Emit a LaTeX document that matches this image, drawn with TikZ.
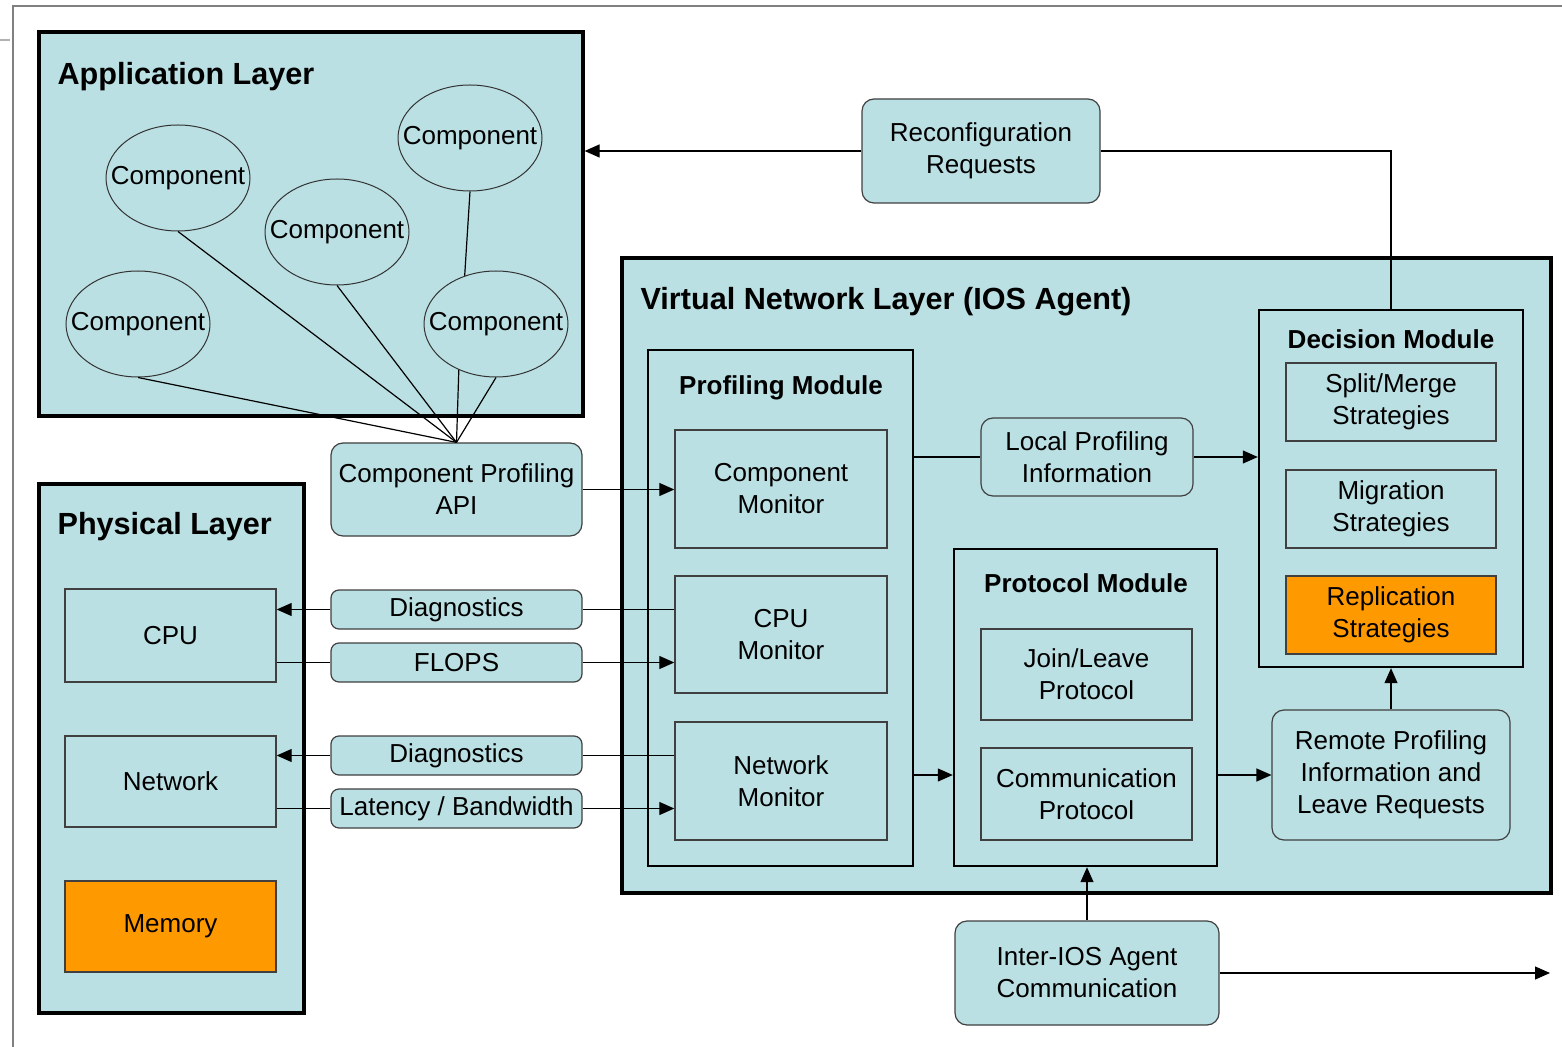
\documentclass[tikz,border=0pt]{standalone}
\usepackage{fontspec}
\setmainfont{Liberation Sans}
\usetikzlibrary{arrows.meta,shapes.geometric}
\definecolor{lblue}{RGB}{187,224,227}
\definecolor{orng}{RGB}{255,153,0}
\begin{document}
\begin{tikzpicture}[x=0.5pt, y=-0.5pt, line width=0.6pt,
    every node/.style={font=\fontsize{13}{16}\selectfont, align=center, inner sep=0pt},
    layer/.style={draw, line width=1.6pt, fill=lblue},
    module/.style={draw, line width=1.2pt, fill=lblue},
    box/.style={draw=black!75, line width=0.7pt, fill=lblue},
    hot/.style={box, fill=orng},
    msg/.style={draw=black!75, line width=0.6pt, fill=lblue, rounded corners=6pt},
    comp/.style={draw=black!80, line width=0.5pt, ellipse, fill=lblue, inner xsep=-12pt, inner ysep=0pt,
      minimum width=72pt, minimum height=53pt},
    title/.style={font=\fontsize{15.3}{18}\selectfont\bfseries, anchor=west},
    head/.style={font=\fontsize{13}{16}\selectfont\bfseries},
    arr/.style={-{Triangle[length=7.5pt,width=6.5pt]}}]
  \useasboundingbox (0,0) rectangle (1562,1047);
  \draw[gray, line width=0.8pt] (13,1047) -- (13,6) -- (1562,6);
  \draw[gray!60, line width=0.8pt] (0,40) -- (10,40);

  \node[layer, minimum width=272pt, minimum height=192pt] (app) at (311,224) {};
  \node[title] (apptitle) at (57,77) {Application Layer};
  \node[comp] (c1) at (178,178) {Component};
  \node[comp] (c2) at (470,138) {Component};
  \node[comp] (c3) at (337,232) {Component};
  \node[comp] (c4) at (138,324) {Component};
  \node[comp] (c5) at (496,324) {Component};

  \node[layer, minimum width=132.5pt, minimum height=264.5pt] (phys) at (171.5,748.5) {};
  \node[title] (phystitle) at (57,527) {Physical Layer};
  \node[box, minimum width=105.5pt, minimum height=46.5pt] (cpu) at (170.5,635.5) {CPU};
  \node[box, minimum width=105.5pt, minimum height=45.5pt] (net) at (170.5,781.5) {Network};
  \node[hot, minimum width=105.5pt, minimum height=45.5pt] (mem) at (170.5,926.5) {Memory};

  \node[msg, minimum width=125.5pt, minimum height=46.5pt] (api) at (456.5,489.5) {Component Profiling\\API};
  \node[msg, rounded corners=4pt, minimum width=125.5pt, minimum height=19.5pt] (diag1) at (456.5,609.5) {Diagnostics};
  \node[msg, rounded corners=4pt, minimum width=125.5pt, minimum height=19.5pt] (flops) at (456.5,662.5) {FLOPS};
  \node[msg, rounded corners=4pt, minimum width=125.5pt, minimum height=19.5pt] (diag2) at (456.5,755.5) {Diagnostics};
  \node[msg, rounded corners=4pt, minimum width=125.5pt, minimum height=19.5pt] (lat) at (456.5,808.5) {Latency / Bandwidth};

  \node[layer, minimum width=464.5pt, minimum height=317.5pt] (vnl) at (1086.5,575.5) {};
  \node[title] (vnltitle) at (640,302) {Virtual Network Layer (IOS Agent)};

  \node[module, minimum width=132.5pt, minimum height=258pt] (prof) at (780.5,608) {};
  \node[head] (proftitle) at (781,388) {Profiling Module};
  \node[box, minimum width=106pt, minimum height=59pt] (cmon) at (781,489) {Component\\Monitor};
  \node[box, minimum width=106pt, minimum height=58.5pt] (cpumon) at (781,634.5) {CPU\\Monitor};
  \node[box, minimum width=106pt, minimum height=59pt] (netmon) at (781,781) {Network\\Monitor};

  \node[msg, minimum width=106pt, minimum height=39pt] (local) at (1087,457) {Local Profiling\\Information};

  \node[module, minimum width=131.5pt, minimum height=158.5pt] (proto) at (1085.5,707.5) {};
  \node[head] (prototitle) at (1086,583) {Protocol Module};
  \node[box, minimum width=105.5pt, minimum height=45.5pt] (join) at (1086.5,674.5) {Join/Leave\\Protocol};
  \node[box, minimum width=105.5pt, minimum height=46pt] (comm) at (1086.5,794) {Communication\\Protocol};

  \node[module, minimum width=132pt, minimum height=178.5pt] (dec) at (1391,488.5) {};
  \node[head] (dectitle) at (1391,339) {Decision Module};
  \node[box, minimum width=105pt, minimum height=39pt] (split) at (1391,402) {Split/Merge\\Strategies};
  \node[box, minimum width=105pt, minimum height=39pt] (migr) at (1391,509) {Migration\\Strategies};
  \node[hot, minimum width=105pt, minimum height=39pt] (repl) at (1391,615) {Replication\\Strategies};

  \node[msg, minimum width=119pt, minimum height=65pt] (remote) at (1391,775) {Remote Profiling\\Information and\\Leave Requests};
  \node[msg, minimum width=119pt, minimum height=52pt] (reconf) at (981,151) {Reconfiguration\\Requests};
  \node[msg, minimum width=132pt, minimum height=52pt] (inter) at (1087,973) {Inter-IOS Agent\\Communication};
  \coordinate (out) at (1550,973);

  \draw (c1.south) -- (api.north);
  \draw (c3.south) -- (api.north);
  \draw (c4.south) -- (api.north);
  \draw (c5.231) -- (api.north);
  \draw (c5.south) -- (api.north);
  \draw (c2.south) -- (c5.123);

  \draw[arr] (api.east) -- (cmon.west |- api);
  \draw (cpumon.west |- diag1) -- (diag1.east);
  \draw[arr] (diag1.west) -- (cpu.east |- diag1);
  \draw (cpu.east |- flops) -- (flops.west);
  \draw[arr] (flops.east) -- (cpumon.west |- flops);
  \draw (netmon.west |- diag2) -- (diag2.east);
  \draw[arr] (diag2.west) -- (net.east |- diag2);
  \draw (net.east |- lat) -- (lat.west);
  \draw[arr] (lat.east) -- (netmon.west |- lat);

  \draw (prof.east |- local) -- (local.west);
  \draw[arr] (local.east) -- (dec.west |- local);
  \draw[arr] (prof.east |- remote) -- (proto.west |- remote);
  \draw[arr] (proto.east |- remote) -- (remote.west);
  \draw[arr] (remote.north) -- (dec.south);
  \draw (dec.north) |- (reconf.east);
  \draw[arr] (reconf.west) -- (app.east |- reconf);
  \draw[arr] (inter.north) -- (inter.north |- proto.south);
  \draw[arr] (inter.east) -- (out);
\end{tikzpicture}
\end{document}
